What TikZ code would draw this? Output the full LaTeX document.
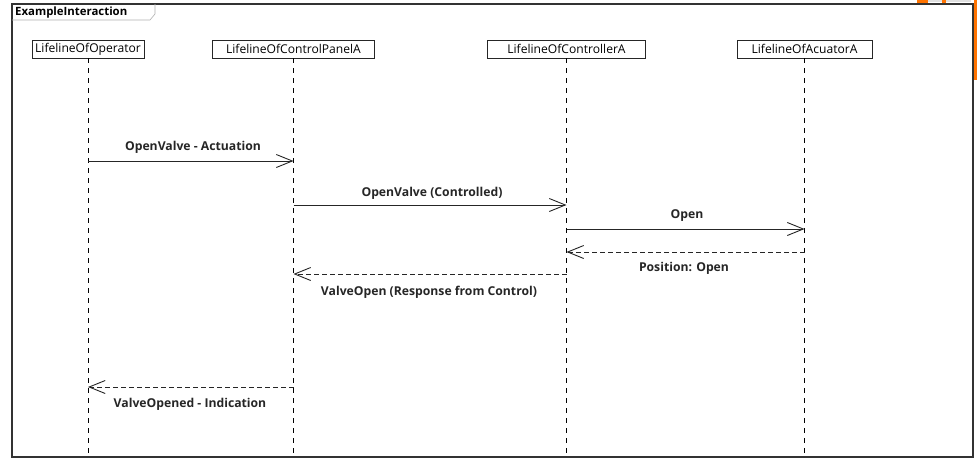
\documentclass[tikz,border=0pt]{standalone}
\usepackage{fontspec}
\setmainfont{Open Sans}
\usetikzlibrary{arrows.meta}

\begin{document}
\begin{tikzpicture}[x=1pt,y=-1pt,
  lifebox/.style={draw=black!85, line width=0.9pt, fill=white, inner sep=0pt,
    minimum height=18pt, font=\fontsize{12.1}{14}\selectfont},
  lifeline/.style={draw=black, line width=0.9pt, dash pattern=on 5pt off 5pt},
  msg/.style={draw=black!85, line width=0.9pt, -{Straight Barb[length=16pt,width=13pt,line width=0.9pt]}},
  reply/.style={msg, dash pattern=on 5pt off 3pt},
  msglabel/.style={font=\bfseries\fontsize{12.2}{14}\selectfont, inner sep=1pt, text=black!85}
]
% canvas
\useasboundingbox (0,0) rectangle (977,458);
\fill[white] (0,0) rectangle (977,458);

% orange fragments behind the frame
\fill[orange!90!red] (973.5,0) rectangle (977,80);
\fill[orange!90!red] (917,0) rectangle (928,3);
\fill[orange!90!red] (942,0) rectangle (946,3);
\fill[black!12] (928,0) rectangle (942,2);
\fill[black!12] (946,0) rectangle (971,2);

% interaction frame
\draw[black!80, line width=1.6pt] (12,4) rectangle (973,457);
\draw[black!30, line width=0.6pt] (12,20) -- (150,20) -- (155,14) -- (155,4);
\node[anchor=west, font=\bfseries\fontsize{11.4}{13}\selectfont, inner sep=0pt] (frametitle) at (15,13) {ExampleInteraction};

% lifeline heads
\node[lifebox, minimum width=112pt] (op)  at (88,49)    {LifelineOfOperator};
\node[lifebox, minimum width=162pt] (cp)  at (293.5,49) {LifelineOfControlPanelA};
\node[lifebox, minimum width=158pt] (ct)  at (566.5,49) {LifelineOfControllerA};
\node[lifebox, minimum width=135pt] (ac)  at (804.5,49) {LifelineOfAcuatorA};

% lifeline ends at the frame bottom
\coordinate (opend) at (op |- 0,456);
\coordinate (cpend) at (cp |- 0,456);
\coordinate (ctend) at (ct |- 0,456);
\coordinate (acend) at (ac |- 0,456);

\draw[lifeline] (op.south) -- (opend);
\draw[lifeline] (cp.south) -- (cpend);
\draw[lifeline] (ct.south) -- (ctend);
\draw[lifeline] (ac.south) -- (acend);

% messages
\draw[msg]   (op |- 0,161) -- (cp |- 0,161);
\node[msglabel] (l1) at (193,147) {OpenValve - Actuation};

\draw[msg]   (cp |- 0,205) -- (ct |- 0,205);
\node[msglabel] (l2) at (432,193) {OpenValve (Controlled)};

\draw[msg]   (ct |- 0,229) -- (ac |- 0,229);
\node[msglabel] (l3) at (687,216) {Open};

\draw[reply] (ac |- 0,252) -- (ct |- 0,252);
\node[msglabel] (l4) at (684,268) {Position: Open};

\draw[reply] (ct |- 0,274) -- (cp |- 0,274);
\node[msglabel] (l5) at (429,292) {ValveOpen (Response from Control)};

\draw[reply] (cp |- 0,387) -- (op |- 0,387);
\node[msglabel] (l6) at (190,404) {ValveOpened - Indication};
\end{tikzpicture}
\end{document}
